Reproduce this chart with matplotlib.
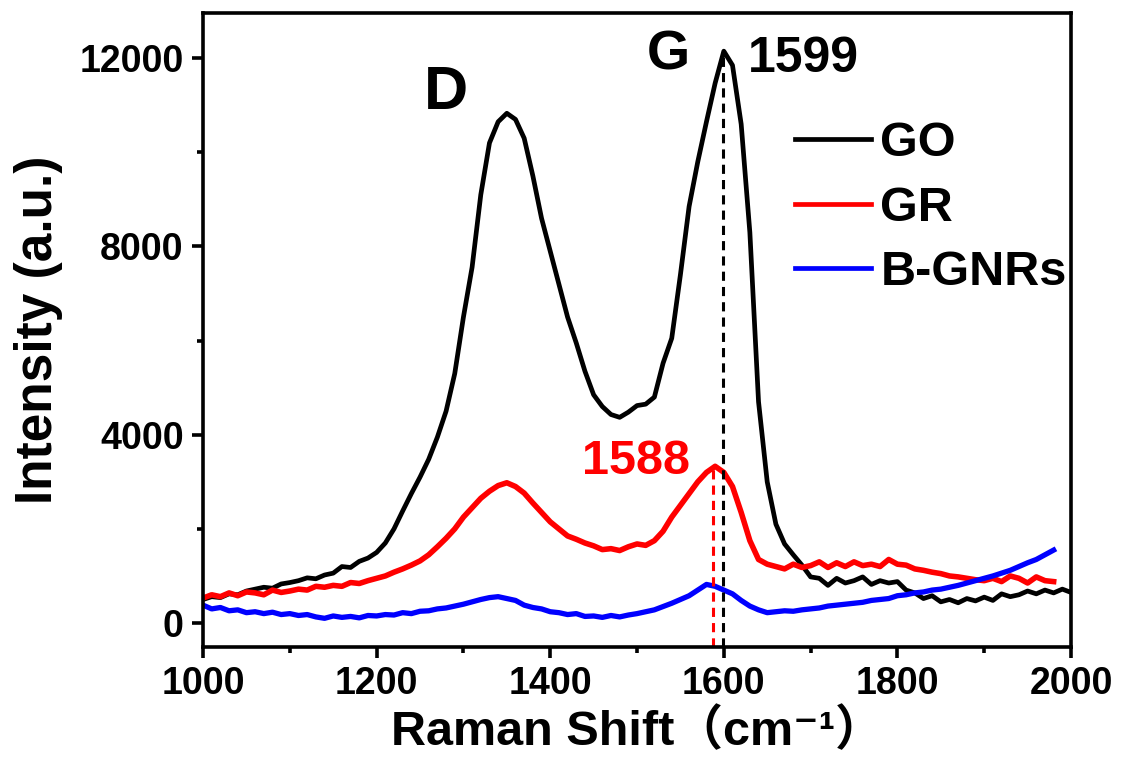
"""
Raman spectra of GO, GR and B-GNRs (D and G bands).
"""

import numpy as np
import matplotlib
matplotlib.use("Agg")
import matplotlib.pyplot as plt
from matplotlib.ticker import MultipleLocator

plt.rcParams['font.family'] = ['Liberation Sans', 'Noto Sans CJK SC', 'DejaVu Sans']
plt.rcParams['font.weight'] = 'bold'

# Raman shift grid (cm^-1), read every 10 cm^-1
shift_go = list(range(1000, 2001, 10))
shift_gr = list(range(1000, 1981, 10))
shift_bg = list(range(1000, 1981, 10))

go = [500, 560, 540, 620, 600, 680, 720, 760, 740, 830,
      860, 900, 960, 940, 1020, 1060, 1200, 1180, 1310, 1380,
      1500, 1700, 2000, 2380, 2750, 3100, 3480, 3950, 4500, 5300,
      6500, 7560, 9100, 10200, 10650, 10830, 10700, 10300, 9500, 8600,
      7900, 7200, 6500, 5950, 5350, 4850, 4600, 4430, 4370, 4480,
      4620, 4650, 4800, 5520, 6050, 7400, 8850, 9800, 10650, 11470,
      12150, 11850, 10600, 8300, 4700, 3000, 2100, 1680, 1450, 1230,
      980, 950, 800, 950, 850, 900, 980, 820, 900, 850,
      880, 700, 640, 520, 580, 450, 500, 430, 520, 470,
      550, 480, 620, 560, 600, 680, 620, 700, 640, 720,
      650]

gr = [530, 600, 560, 640, 580, 660, 640, 600, 700, 650,
      680, 720, 700, 780, 760, 800, 780, 860, 840, 900,
      950, 1000, 1080, 1150, 1230, 1320, 1450, 1620, 1800, 2000,
      2250, 2450, 2650, 2800, 2920, 2980, 2900, 2760, 2550, 2350,
      2150, 2000, 1850, 1780, 1700, 1640, 1560, 1580, 1540, 1620,
      1680, 1650, 1750, 1950, 2250, 2500, 2750, 3000, 3200, 3330,
      3200, 2900, 2350, 1750, 1350, 1250, 1200, 1150, 1250, 1180,
      1220, 1300, 1180, 1280, 1200, 1300, 1220, 1250, 1200, 1350,
      1250, 1230, 1150, 1120, 1080, 1050, 1000, 980, 950, 920,
      900, 950, 880, 1000, 950, 850, 980, 900, 880]

bgnr = [380, 300, 330, 260, 280, 220, 240, 200, 230, 180,
        200, 160, 180, 130, 100, 150, 120, 140, 110, 160,
        150, 180, 170, 220, 200, 250, 260, 300, 320, 360,
        400, 450, 500, 540, 560, 520, 480, 380, 330, 300,
        240, 220, 180, 200, 140, 150, 120, 160, 130, 170,
        200, 240, 280, 350, 420, 500, 580, 700, 820, 780,
        700, 620, 480, 360, 280, 220, 240, 260, 250, 280,
        300, 320, 360, 380, 400, 420, 440, 480, 500, 520,
        580, 600, 640, 660, 700, 720, 760, 800, 850, 900,
        950, 1000, 1060, 1120, 1200, 1280, 1350, 1450, 1550]

series_labels = ['GO', 'GR', 'B-GNRs']
series_colors = ['black', '#ff0000', '#0000ff']

# peak positions marked with dashed lines
g_peak_go = 1599
g_peak_go_int = 12150
g_peak_gr = 1588
g_peak_gr_int = 3330

fig = plt.figure(figsize=(11.23, 7.76), dpi=100)
ax = fig.add_axes([0.1808, 0.1662, 0.7729, 0.8170])

ax.plot(shift_go, go, color=series_colors[0], lw=3.4, label=series_labels[0])
ax.plot(shift_gr, gr, color=series_colors[1], lw=4.0, label=series_labels[1])
ax.plot(shift_bg, bgnr, color=series_colors[2], lw=3.8, label=series_labels[2])

ymin, ymax = -510, 12960
ax.plot([g_peak_go, g_peak_go], [ymin, g_peak_go_int], color='black',
        lw=2.2, linestyle=(0, (3, 2)))
ax.plot([g_peak_gr, g_peak_gr], [ymin, g_peak_gr_int], color='#ff0000',
        lw=2.2, linestyle=(0, (3, 2)))

ax.set_xlim(1000, 2000)
ax.set_ylim(ymin, ymax)

ax.xaxis.set_major_locator(MultipleLocator(200))
ax.xaxis.set_minor_locator(MultipleLocator(100))
ax.yaxis.set_major_locator(MultipleLocator(4000))
ax.yaxis.set_minor_locator(MultipleLocator(2000))

for s in ax.spines.values():
    s.set_linewidth(2.6)
ax.tick_params(which='both', direction='out', width=2.6, top=False, right=False,
               labelsize=27, pad=6)
ax.tick_params(which='major', length=8)
ax.tick_params(which='minor', length=4.5)
for lab in ax.get_xticklabels() + ax.get_yticklabels():
    lab.set_fontweight('bold')

ax.set_ylabel('Intensity (a.u.)', fontsize=37, fontweight='bold', labelpad=12)
ax.set_xlabel('Raman Shift\uff08cm\u207b\u00b9\uff09', fontsize=35, fontweight='bold',
              labelpad=4)

ax.text(1280, 10650, 'D', fontsize=44, fontweight='bold', ha='center', va='bottom')
ax.text(1536, 11500, 'G', fontsize=40, fontweight='bold', ha='center', va='bottom')
ax.text(1628, 11490, '1599', fontsize=36, fontweight='bold', ha='left', va='bottom')
ax.text(1561, 2950, '1588', fontsize=35, fontweight='bold', ha='right', va='bottom',
        color='#ff0000')

leg = ax.legend(loc='upper left', bbox_to_anchor=(0.66, 0.86), frameon=False,
                fontsize=35, handlelength=1.55, handletextpad=0.2,
                labelspacing=0.4, borderaxespad=0)
for t in leg.get_texts():
    t.set_fontweight('bold')
for h in leg.get_lines():
    h.set_linewidth(3.4)

fig.savefig('out.png', dpi=100)
